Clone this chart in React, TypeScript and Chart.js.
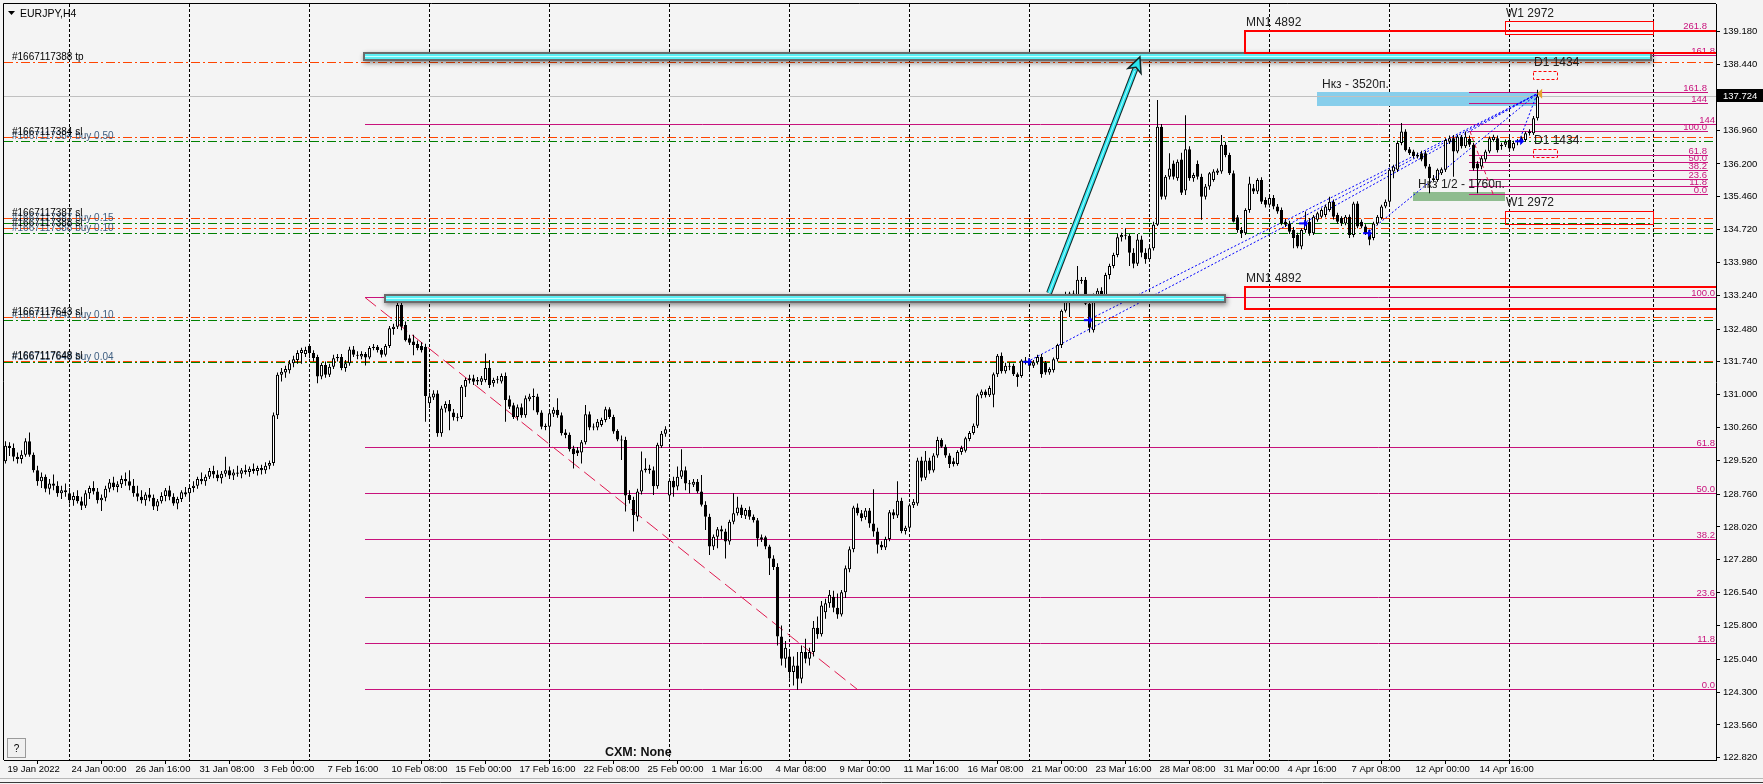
import React, { useEffect, useRef } from "react";
import { Chart, registerables } from "chart.js";

Chart.register(...registerables);

// ---------------- data ----------------
const symbolTitle = "EURJPY,H4";
const footerText = "CXM: None";

const opens = [
  129.50,129.85,129.80,129.60,129.55,129.65,129.95,129.65,129.30,129.05,
  129.15,128.88,129.00,128.95,128.78,128.85,128.78,128.62,128.72,128.60,
  128.50,128.78,128.90,128.82,128.62,128.68,128.88,129.02,128.92,128.98,
  129.10,129.05,128.95,128.78,128.70,128.62,128.75,128.68,128.48,128.60,
  128.72,128.85,128.70,128.55,128.65,128.80,128.78,128.90,128.95,129.10,
  129.05,129.15,129.28,129.20,129.12,129.22,129.30,129.18,129.25,129.22,
  129.30,129.26,129.33,129.28,129.35,129.30,129.40,129.46,130.54,131.45,
  131.50,131.55,131.71,131.78,131.94,131.92,132.10,131.94,131.85,131.41,
  131.67,131.45,131.63,131.82,131.85,131.60,131.71,132.02,131.90,131.86,
  131.92,131.84,132.05,132.08,132.01,131.90,132.10,132.48,132.53,133.02,
  132.57,132.27,132.20,132.14,132.10,132.08,130.81,130.94,131.03,130.13,
  130.69,130.79,130.60,130.50,130.50,131.18,131.33,131.37,131.30,131.29,
  131.33,131.60,131.26,131.34,131.30,131.42,130.90,130.76,130.50,130.72,
  130.54,130.90,130.96,130.96,130.60,130.30,130.28,130.57,130.66,130.54,
  130.15,130.10,129.79,129.75,129.70,129.93,130.56,130.28,130.26,130.32,
  130.43,130.67,130.50,130.18,129.99,129.98,128.74,128.63,128.25,128.82,
  129.30,129.34,129.30,128.94,129.84,130.12,128.73,129.06,128.93,129.15,
  129.30,129.00,128.97,129.04,128.82,128.52,128.25,127.58,127.80,127.97,
  127.92,127.69,128.14,128.33,128.46,128.27,128.40,128.25,128.17,127.79,
  127.79,127.58,127.31,127.12,125.55,125.05,125.10,124.75,124.90,124.60,
  125.20,125.05,125.20,125.75,125.60,126.10,126.30,126.45,126.20,126.05,
  126.55,127.07,127.52,128.46,128.33,128.24,128.39,128.10,127.92,127.62,
  127.56,127.75,128.35,128.28,128.61,127.93,128.00,128.51,128.55,129.52,
  129.13,129.52,129.29,129.63,129.98,129.83,129.63,129.50,129.44,129.71,
  129.74,130.00,130.14,130.30,130.99,131.07,130.99,131.00,131.46,131.88,
  131.53,131.65,131.65,131.46,131.42,131.77,131.73,131.65,131.73,131.85,
  131.72,131.50,131.55,131.80,132.12,132.89,133.12,133.28,133.24,133.59,
  133.59,133.05,132.45,133.24,133.34,133.20,133.70,133.90,134.15,134.55,
  134.60,134.58,134.20,133.95,134.50,134.20,134.05,134.30,134.83,137.04,
  135.46,135.91,136.21,135.88,136.30,135.60,136.53,135.88,136.20,135.91,
  135.46,135.69,135.84,136.00,136.03,136.63,136.40,135.99,135.00,134.71,
  134.64,135.16,135.65,135.58,135.84,135.39,135.28,135.43,135.24,135.16,
  134.90,134.86,134.71,134.60,134.34,134.71,134.90,134.64,134.94,135.01,
  135.05,135.16,135.35,135.05,134.98,134.86,135.01,134.60,135.31,134.90,
  134.79,134.67,134.53,134.86,134.98,135.24,135.35,136.03,136.07,136.67,
  136.93,136.53,136.48,136.40,136.44,136.44,136.14,135.88,135.84,135.99,
  136.07,136.70,136.78,136.48,136.81,136.60,136.77,136.63,136.21,136.14,
  136.30,136.48,136.74,136.78,136.60,136.63,136.74,136.55,136.70,136.70,
  136.74,136.89,136.89,137.23,
];
const highs = [
  129.95,129.93,129.90,129.70,129.75,130.02,130.15,129.70,129.40,129.25,
  129.20,129.10,129.20,129.05,128.95,129.00,128.90,128.80,128.85,128.70,
  128.85,128.95,129.05,128.90,128.75,128.95,129.10,129.15,129.05,129.18,
  129.25,129.30,129.10,128.95,128.85,128.80,128.90,128.75,128.65,128.80,
  128.90,128.95,128.78,128.70,128.85,128.92,128.95,129.05,129.15,129.25,
  129.20,129.35,129.40,129.30,129.28,129.60,129.38,129.32,129.40,129.35,
  129.42,129.38,129.45,129.40,129.42,129.48,129.52,130.60,131.50,131.60,
  131.65,131.78,131.88,132.00,132.06,132.08,132.15,132.00,131.90,131.72,
  131.75,131.70,131.90,131.92,131.92,131.78,132.08,132.10,131.98,131.98,
  131.96,132.10,132.14,132.12,132.05,132.14,132.55,132.60,133.19,133.10,
  132.65,132.35,132.35,132.22,132.18,132.15,131.05,131.10,131.10,130.75,
  130.85,130.88,130.68,130.58,131.22,131.38,131.45,131.45,131.40,131.42,
  131.93,131.78,131.38,131.42,131.48,131.50,130.98,130.82,130.78,130.80,
  130.98,131.02,131.14,131.02,130.65,130.35,130.62,130.72,130.92,130.60,
  130.22,130.15,129.85,129.82,129.98,130.77,130.62,130.35,130.45,130.48,
  130.73,130.72,130.55,130.22,130.08,130.05,128.85,128.70,128.88,129.72,
  129.57,129.42,129.38,129.92,130.18,130.29,129.12,129.15,129.38,129.77,
  129.38,129.08,129.10,129.10,129.19,128.60,128.32,127.85,128.02,128.05,
  127.98,128.18,128.78,128.70,128.52,128.45,128.48,128.30,128.22,127.85,
  127.82,127.62,127.38,127.20,125.80,125.45,125.25,125.10,125.20,125.35,
  125.50,125.30,125.90,126.00,126.35,126.40,126.60,126.58,126.52,126.60,
  127.15,127.58,128.50,128.55,128.40,128.45,128.45,128.87,128.00,127.70,
  127.80,128.40,128.42,129.05,128.68,128.05,128.55,128.65,129.58,129.60,
  129.73,129.58,129.68,130.05,130.02,129.88,129.68,129.58,129.75,129.85,
  130.05,130.18,130.35,131.03,131.12,131.12,131.20,131.50,131.92,131.95,
  131.72,131.72,131.70,131.50,131.80,131.85,131.82,131.78,131.90,131.92,
  131.76,131.62,131.84,132.15,132.92,133.32,133.32,133.35,133.90,133.65,
  133.65,133.12,133.28,133.40,133.42,133.75,133.95,134.20,134.62,134.65,
  134.75,134.62,134.30,134.62,134.58,134.30,134.35,134.90,137.64,137.10,
  135.95,136.44,136.28,136.30,136.45,137.30,136.60,136.00,136.28,135.98,
  135.75,136.02,136.08,136.10,136.85,136.70,136.45,136.05,135.05,134.78,
  135.20,135.91,135.75,135.88,135.90,135.45,135.48,135.50,135.30,135.22,
  134.96,134.92,134.78,134.65,134.75,135.13,134.98,135.05,135.12,135.20,
  135.28,135.46,135.40,135.10,135.02,135.05,135.06,135.35,135.36,134.95,
  134.84,134.72,134.90,135.05,135.28,135.40,136.10,136.18,136.72,137.12,
  136.98,136.58,136.52,136.46,136.50,136.50,136.20,135.95,136.10,136.12,
  136.78,136.84,136.85,136.86,136.85,136.93,136.84,136.68,136.26,136.38,
  136.52,136.82,136.86,136.84,136.68,136.75,136.80,136.72,136.76,136.82,
  136.93,136.98,137.28,137.87,
];
const lows = [
  129.45,129.62,129.50,129.45,129.45,129.60,129.60,129.25,128.95,128.90,
  128.80,128.75,128.85,128.70,128.65,128.70,128.55,128.50,128.55,128.40,
  128.45,128.65,128.75,128.55,128.38,128.60,128.80,128.85,128.80,128.90,
  128.95,128.85,128.70,128.60,128.55,128.50,128.60,128.40,128.38,128.55,
  128.60,128.62,128.50,128.42,128.58,128.70,128.65,128.80,128.88,128.98,
  128.95,129.10,129.12,129.05,129.00,129.15,129.10,129.08,129.15,129.12,
  129.20,129.15,129.22,129.18,129.20,129.22,129.32,129.40,130.45,131.30,
  131.38,131.48,131.62,131.70,131.70,131.85,131.82,131.75,131.26,131.35,
  131.38,131.40,131.58,131.75,131.55,131.52,131.65,131.85,131.80,131.80,
  131.66,131.80,132.00,131.95,131.84,131.86,132.05,132.35,132.48,132.45,
  132.20,132.12,131.89,132.00,131.95,130.39,130.70,130.88,130.05,130.05,
  130.60,130.20,130.42,130.40,130.45,130.95,131.25,131.22,131.22,131.22,
  131.28,131.15,131.18,131.25,131.25,130.39,130.68,130.45,130.42,130.48,
  130.48,130.85,130.65,130.55,130.22,130.20,129.90,130.50,130.48,130.08,
  130.02,129.72,129.34,129.62,129.45,129.88,130.20,130.20,130.20,130.28,
  130.38,130.45,130.12,129.95,129.53,128.37,128.55,127.92,128.15,128.75,
  129.25,129.22,128.74,128.88,129.80,130.05,128.60,128.70,128.85,129.10,
  128.85,128.78,128.92,128.78,128.48,127.95,127.39,127.50,127.54,127.75,
  127.31,127.62,128.08,128.28,128.22,128.20,128.18,128.12,127.58,127.68,
  127.52,126.94,127.05,125.35,124.90,124.85,124.60,124.45,124.35,124.50,
  124.95,124.90,125.10,125.50,125.55,125.95,126.20,126.10,125.95,126.00,
  126.42,127.00,127.45,128.28,128.15,128.18,128.00,127.80,127.42,127.50,
  127.50,127.70,128.20,128.22,127.88,127.85,127.95,128.45,128.50,129.05,
  129.08,129.22,129.25,129.58,129.80,129.58,129.35,129.38,129.40,129.65,
  129.70,129.95,130.10,130.25,130.92,130.94,130.95,130.72,131.40,131.48,
  131.48,131.55,131.42,131.18,131.38,131.68,131.58,131.60,131.68,131.38,
  131.45,131.45,131.50,131.75,132.05,132.85,132.75,133.18,133.20,133.50,
  133.02,132.40,132.40,133.18,133.10,133.15,133.60,133.85,134.10,134.45,
  134.50,133.90,133.85,133.90,134.10,133.95,134.00,134.25,134.80,135.40,
  135.40,135.85,135.85,135.82,135.50,135.50,135.82,135.80,135.85,134.94,
  135.40,135.62,135.80,135.95,135.98,136.35,135.95,134.88,134.65,134.53,
  134.60,135.10,135.52,135.52,135.30,135.22,135.22,135.18,135.08,134.82,
  134.78,134.62,134.30,134.30,134.28,134.65,134.58,134.60,134.90,134.98,
  135.00,135.12,134.95,134.85,134.80,134.82,134.53,134.55,134.75,134.75,
  134.60,134.37,134.48,134.82,134.95,135.20,135.30,135.88,136.02,136.62,
  136.48,136.40,136.33,136.32,136.26,136.10,135.54,135.80,135.80,135.95,
  136.02,136.65,135.91,136.44,136.55,136.56,136.58,136.05,135.54,136.08,
  136.25,136.44,136.70,136.46,136.52,136.58,136.50,136.50,136.62,136.66,
  136.70,136.84,136.85,137.18,
];
const closes = [
  129.85,129.80,129.60,129.55,129.65,129.95,129.65,129.30,129.05,129.15,
  128.88,129.00,128.95,128.78,128.85,128.80,128.62,128.72,128.60,128.50,
  128.78,128.90,128.82,128.62,128.68,128.88,129.02,128.92,128.98,129.10,
  129.05,128.95,128.78,128.70,128.62,128.75,128.68,128.48,128.60,128.72,
  128.85,128.70,128.55,128.65,128.80,128.75,128.90,128.95,129.10,129.05,
  129.15,129.28,129.20,129.12,129.22,129.30,129.18,129.25,129.22,129.30,
  129.26,129.33,129.28,129.35,129.30,129.40,129.46,130.54,131.45,131.52,
  131.58,131.71,131.80,131.94,132.01,132.01,131.94,131.83,131.41,131.67,
  131.45,131.63,131.82,131.85,131.60,131.71,132.02,131.90,131.88,131.92,
  131.84,132.05,132.08,132.01,131.90,132.10,132.50,132.53,133.02,132.53,
  132.23,132.17,132.12,132.05,132.00,130.97,130.96,131.03,130.13,130.69,
  130.79,130.62,130.49,130.48,131.18,131.33,131.37,131.29,131.33,131.37,
  131.60,131.22,131.33,131.35,131.42,130.88,130.73,130.50,130.72,130.54,
  130.92,130.96,130.95,130.60,130.28,130.27,130.58,130.66,130.54,130.13,
  130.09,129.77,129.66,129.68,129.93,130.56,130.26,130.26,130.39,130.43,
  130.67,130.50,130.17,129.99,129.97,128.73,128.63,128.29,128.82,129.30,
  129.34,129.30,128.94,129.87,130.12,130.22,129.06,128.91,129.15,129.30,
  129.00,128.98,129.04,128.82,128.52,128.25,127.58,127.80,127.97,127.92,
  127.69,128.14,128.33,128.46,128.29,128.40,128.25,128.17,127.76,127.74,
  127.58,127.31,127.12,125.55,125.05,125.30,124.75,124.90,124.60,125.20,
  125.05,125.20,125.75,125.60,126.25,126.30,126.49,126.20,126.05,126.55,
  127.09,127.52,128.46,128.33,128.22,128.39,128.10,127.92,127.62,127.56,
  127.75,128.35,128.28,128.61,127.93,128.00,128.51,128.59,129.52,129.13,
  129.52,129.29,129.63,129.98,129.83,129.63,129.44,129.44,129.71,129.80,
  130.02,130.14,130.30,130.99,131.07,130.99,131.15,131.46,131.88,131.53,
  131.65,131.63,131.46,131.40,131.77,131.73,131.65,131.73,131.85,131.46,
  131.50,131.58,131.80,132.12,132.89,133.12,133.28,133.24,133.59,133.56,
  133.05,132.51,133.24,133.34,133.20,133.70,133.90,134.15,134.55,134.60,
  134.58,134.20,133.95,134.50,134.20,134.05,134.30,134.83,137.04,135.46,
  135.91,136.10,135.91,136.25,135.55,136.53,135.88,135.95,135.91,135.46,
  135.69,135.99,136.03,136.05,136.63,136.40,135.99,134.90,134.71,134.64,
  135.16,135.76,135.58,135.84,135.35,135.28,135.43,135.24,135.13,134.86,
  134.83,134.67,134.53,134.34,134.71,134.90,134.64,135.01,135.09,135.16,
  135.24,135.35,135.01,134.90,134.86,135.01,134.60,135.31,134.79,134.79,
  134.64,134.49,134.86,135.01,135.24,135.35,136.07,136.14,136.67,136.93,
  136.51,136.44,136.38,136.37,136.30,136.14,135.88,135.84,136.07,136.08,
  136.74,136.78,136.48,136.81,136.60,136.81,136.63,136.10,136.10,136.33,
  136.48,136.78,136.81,136.51,136.63,136.70,136.55,136.67,136.72,136.78,
  136.89,136.93,137.23,137.72,
];

const dateLabels = [
  "19 Jan 2022", "24 Jan 00:00", "26 Jan 16:00", "31 Jan 08:00", "3 Feb 00:00", "7 Feb 16:00",
  "10 Feb 08:00", "15 Feb 00:00", "17 Feb 16:00", "22 Feb 08:00", "25 Feb 00:00", "1 Mar 16:00",
  "4 Mar 08:00", "9 Mar 00:00", "11 Mar 16:00", "16 Mar 08:00", "21 Mar 00:00", "23 Mar 16:00",
  "28 Mar 08:00", "31 Mar 00:00", "4 Apr 16:00", "7 Apr 08:00", "12 Apr 00:00", "14 Apr 16:00",
];
const dateLabelBars = [0, 16, 32, 48, 64, 80, 96, 112, 128, 144, 160, 176, 192, 208, 224, 240, 256, 272, 288, 304, 320, 336, 352, 368];
const weekGridBars = [16, 46, 76, 106, 136, 166, 196, 226, 256, 286, 316, 346, 376, 412];
const priceTicks = [139.18, 138.44, 136.96, 136.2, 135.46, 134.72, 133.98, 133.24, 132.48, 131.74, 131.0, 130.26, 129.52, 128.76, 128.02, 127.28, 126.54, 125.8, 125.04, 124.3, 123.56, 122.82];
const currentPrice = 137.724;

const xMin = -0.375;
const xMax = 427.625;
const yMin = 122.769;
const yMax = 139.804;

// trade level lines
const orderPrices = [138.49, 136.80, 136.71, 134.97, 134.86, 134.75, 134.64, 132.74, 132.68, 131.752, 131.728];
const orderIsBuy = [false, false, true, false, true, false, true, false, true, false, true];
const orderTexts = [
  "#1667117388 tp", "#1667117384 sl", "#1667117384 buy 0.50", "#1667117387 sl", "#1667117387 buy 0.15",
  "#1667117388 sl", "#1667117388 buy 0.10", "#1667117643 sl", "#1667117642 buy 0.10", "#1667117648 sl", "#1667117648 buy 0.04",
];

// main fibonacci
const fibMainLabels = ["0.0", "11.8", "23.6", "38.2", "50.0", "61.8", "100.0", "144", "161.8"];
const fibMainPrices = [124.35, 125.39, 126.44, 127.73, 128.77, 129.81, 133.19, 137.08, 138.65];
const fibMainStartBar = 89.9;
const fibMainTrendBars = [89.9, 213.1];
const fibMainTrendPrices = [133.19, 124.35];

// small fibonacci
const fibSmallLabels = ["0.0", "11.8", "23.6", "38.2", "50.0", "61.8", "100.0", "144", "161.8", "261.8"];
const fibSmallPrices = [135.52, 135.69, 135.86, 136.06, 136.23, 136.40, 136.94, 137.57, 137.81, 139.20];
const fibSmallBars = [365.9, 425.6];
const fibSmallTrendBars = [366.1, 371.9];
const fibSmallTrendPrices = [136.94, 135.52];

// red boxes
const boxLabels = ["MN1 4892", "MN1 4892", "W1 2972", "W1 2972", "D1 1434", "D1 1434"];
const boxLeftBars = [309.9, 309.9, 374.9, 374.9, 381.9, 381.9];
const boxRightBars = [440, 440, 411.9, 411.9, 387.9, 387.9];
const boxTopPrices = [139.20, 133.42, 139.41, 135.14, 138.29, 136.54];
const boxBottomPrices = [138.71, 132.93, 139.12, 134.85, 138.12, 136.36];
const boxLabelPrices = [139.30, 133.54, 139.52, 135.25, 138.41, 136.65];
const boxLineWidths = [2, 2, 1, 1, 1, 1];
const boxDashed = [false, false, false, false, true, true];

// zones
const zoneLabels = ["Нкз - 3520п.", "Нкз 1/2 - 1760п."];
const zoneLeftBars = [327.9, 351.9];
const zoneRightBars = [382.9, 374.9];
const zoneTopPrices = [137.83, 135.56];
const zoneBottomPrices = [137.51, 135.37];
const zoneColors = ["#87CEEB", "#8FBC8F"];
const zoneLabelBars = [329.1, 353.1];
const zoneLabelPrices = [137.91, 135.66];

// cyan levels + arrow
const cyanStartBars = [89.4, 94.6];
const cyanEndBars = [411.6, 305.1];
const cyanPrices = [138.63, 133.19];
const arrowBars = [260.9, 283.6];
const arrowPrices = [133.29, 138.61];

// trades
const entryBars = [255.4, 270.6, 324.4, 340.4, 378.4];
const entryPrices = [131.74, 132.68, 134.86, 134.64, 136.71];
const exitBar = 382.9;
const exitPrice = 137.78;

// ---------------- drawing ----------------
const FONT = '"Liberation Sans", Arial, sans-serif';
const BG = "#F4F4F4";
const FIB = "#C8127C";

const crisp = (v: number) => Math.round(v - 0.5) + 0.5;

function seg(ctx: CanvasRenderingContext2D, x1: number, y1: number, x2: number, y2: number) {
  ctx.beginPath();
  ctx.moveTo(x1, y1);
  ctx.lineTo(x2, y2);
  ctx.stroke();
}

const overlayPlugin = {
  id: "mt4Overlay",
  beforeDraw(chart: any) {
    const { ctx, width, height } = chart;
    ctx.save();
    ctx.fillStyle = BG;
    ctx.fillRect(0, 0, width, height);
    ctx.restore();
  },
  beforeDatasetsDraw(chart: any) {
    const { ctx, chartArea: a } = chart;
    const X = (b: number) => chart.scales.x.getPixelForValue(b);
    const Y = (p: number) => chart.scales.y.getPixelForValue(p);
    ctx.save();
    ctx.beginPath();
    ctx.rect(a.left, a.top, a.right - a.left, a.bottom - a.top);
    ctx.clip();
    ctx.lineWidth = 1;

    // week separators
    ctx.strokeStyle = "#000000";
    ctx.setLineDash([3, 2]);
    weekGridBars.forEach((b) => {
      const x = crisp(X(b));
      seg(ctx, x, a.top, x, a.bottom);
    });
    ctx.setLineDash([]);

    // zones
    zoneLabels.forEach((_, k) => {
      const x1 = Math.round(X(zoneLeftBars[k]));
      const x2 = Math.round(X(zoneRightBars[k]));
      const y1 = Math.round(Y(zoneTopPrices[k]));
      const y2 = Math.round(Y(zoneBottomPrices[k]));
      ctx.fillStyle = zoneColors[k];
      ctx.fillRect(x1, y1, x2 - x1, y2 - y1);
    });

    // current price line
    ctx.strokeStyle = "#C0C0C0";
    const cy = crisp(Y(currentPrice));
    seg(ctx, a.left, cy, a.right, cy);

    // order lines: buy (green) first, then sl/tp (orange) on top
    ctx.setLineDash([9, 3, 2, 3]);
    [true, false].forEach((pass) => {
      orderPrices.forEach((p, k) => {
        if (orderIsBuy[k] !== pass) return;
        ctx.strokeStyle = pass ? "#008000" : "#FF4500";
        const y = crisp(Y(p));
        seg(ctx, a.left, y, a.right, y);
      });
    });
    ctx.setLineDash([]);

    // fib levels
    ctx.strokeStyle = FIB;
    const fx = Math.round(X(fibMainStartBar));
    fibMainPrices.forEach((p) => {
      const y = crisp(Y(p));
      seg(ctx, fx, y, a.right, y);
    });
    const sx1 = Math.round(X(fibSmallBars[0]));
    const sx2 = Math.round(X(fibSmallBars[1]));
    fibSmallPrices.forEach((p) => {
      const y = crisp(Y(p));
      seg(ctx, sx1, y, sx2, y);
    });

    // fib trend lines
    ctx.strokeStyle = "#E0184E";
    ctx.setLineDash([14, 6]);
    seg(ctx, X(fibMainTrendBars[0]), Y(fibMainTrendPrices[0]), X(fibMainTrendBars[1]), Y(fibMainTrendPrices[1]));
    ctx.setLineDash([4, 3]);
    seg(ctx, X(fibSmallTrendBars[0]), Y(fibSmallTrendPrices[0]), X(fibSmallTrendBars[1]), Y(fibSmallTrendPrices[1]));

    // trade dotted lines
    ctx.strokeStyle = "#0000FF";
    ctx.setLineDash([2, 2]);
    entryBars.forEach((b, k) => {
      seg(ctx, X(b), Y(entryPrices[k]), X(exitBar), Y(exitPrice));
    });
    ctx.setLineDash([]);

    // labels
    ctx.font = `9.5px ${FONT}`;
    ctx.textBaseline = "alphabetic";
    ctx.textAlign = "right";
    ctx.fillStyle = FIB;
    fibMainLabels.forEach((t, k) => ctx.fillText(t, a.right - 1, crisp(Y(fibMainPrices[k])) - 1.5));
    fibSmallLabels.forEach((t, k) => ctx.fillText(t, sx2 - 1, crisp(Y(fibSmallPrices[k])) - 1.5));
    ctx.textAlign = "left";
    ctx.font = `10px ${FONT}`;
    [true, false].forEach((pass) => {
      orderTexts.forEach((t, k) => {
        if (orderIsBuy[k] !== pass) return;
        ctx.fillStyle = pass ? "#3E5E80" : "#000000";
        ctx.fillText(t, a.left + 8, crisp(Y(orderPrices[k])) - 2.5);
      });
    });
    ctx.restore();
  },
  afterDatasetsDraw(chart: any) {
    const { ctx, chartArea: a } = chart;
    const X = (b: number) => chart.scales.x.getPixelForValue(b);
    const Y = (p: number) => chart.scales.y.getPixelForValue(p);
    ctx.save();
    ctx.beginPath();
    ctx.rect(a.left, a.top, a.right - a.left, a.bottom - a.top);
    ctx.clip();

    // cyan level bars
    cyanPrices.forEach((p, k) => {
      const x1 = Math.round(X(cyanStartBars[k]));
      const x2 = Math.round(X(cyanEndBars[k]));
      const yc = Math.round(Y(p));
      ctx.save();
      ctx.shadowColor = "rgba(0,0,0,0.45)";
      ctx.shadowBlur = 5;
      ctx.shadowOffsetY = 2;
      ctx.shadowOffsetX = 1;
      ctx.fillStyle = "#6B6B6B";
      ctx.fillRect(x1, yc - 4, x2 - x1, 9);
      ctx.restore();
      ctx.fillStyle = "#5CEFF5";
      ctx.fillRect(x1 + 2, yc - 2, x2 - x1 - 4, 5);
      ctx.fillStyle = "#C8FFFF";
      ctx.fillRect(x1 + 2, yc, x2 - x1 - 4, 1);
    });

    // cyan arrow
    {
      const ax1 = X(arrowBars[0]), ay1 = Y(arrowPrices[0]);
      const ax2 = X(arrowBars[1]), ay2 = Y(arrowPrices[1]);
      const dx = ax2 - ax1, dy = ay2 - ay1;
      const len = Math.hypot(dx, dy);
      const ux = dx / len, uy = dy / len;
      const nx = -uy, ny = ux;
      const hl = 15, hw = 7;
      const bx = ax2 - ux * hl, by = ay2 - uy * hl;
      ctx.lineCap = "butt";
      ctx.strokeStyle = "#102828";
      ctx.lineWidth = 6;
      seg(ctx, ax1, ay1, bx + ux * 2, by + uy * 2);
      ctx.strokeStyle = "#2BE4EE";
      ctx.lineWidth = 4;
      seg(ctx, ax1, ay1, bx + ux * 2, by + uy * 2);
      ctx.strokeStyle = "#A8FCFF";
      ctx.lineWidth = 1;
      seg(ctx, ax1, ay1, bx, by);
      ctx.beginPath();
      ctx.moveTo(ax2, ay2);
      ctx.lineTo(bx + nx * hw, by + ny * hw);
      ctx.lineTo(bx + ux * 4, by + uy * 4);
      ctx.lineTo(bx - nx * hw, by - ny * hw);
      ctx.closePath();
      ctx.fillStyle = "#2BE4EE";
      ctx.fill();
      ctx.strokeStyle = "#102828";
      ctx.lineWidth = 1.5;
      ctx.stroke();
    }

    // red boxes
    boxLabels.forEach((_, k) => {
      const w = boxLineWidths[k];
      const off = w % 2 === 1 ? 0.5 : 0;
      const x1 = Math.round(X(boxLeftBars[k])) + off;
      const x2 = Math.round(X(boxRightBars[k])) + off;
      const y1 = Math.round(Y(boxTopPrices[k])) + off;
      const y2 = Math.round(Y(boxBottomPrices[k])) + off;
      ctx.strokeStyle = "#FF0000";
      ctx.lineWidth = w;
      ctx.setLineDash(boxDashed[k] ? [3, 2] : []);
      ctx.strokeRect(x1, y1, x2 - x1, y2 - y1);
    });
    ctx.setLineDash([]);

    // trade markers
    entryBars.forEach((b, k) => {
      const x = X(b), y = Y(entryPrices[k]);
      ctx.fillStyle = "#0000FF";
      ctx.fillRect(x - 4, y - 1, 5, 2);
      ctx.beginPath();
      ctx.moveTo(x + 1, y - 4);
      ctx.lineTo(x + 5, y);
      ctx.lineTo(x + 1, y + 4);
      ctx.closePath();
      ctx.fill();
    });
    {
      const x = X(exitBar), y = Y(exitPrice);
      ctx.fillStyle = "#E6A12E";
      ctx.beginPath();
      ctx.moveTo(x, y);
      ctx.lineTo(x + 5, y - 5);
      ctx.lineTo(x + 5, y + 5);
      ctx.closePath();
      ctx.fill();
    }

    // box + zone labels
    ctx.font = `12px ${FONT}`;
    ctx.textAlign = "left";
    ctx.textBaseline = "alphabetic";
    ctx.fillStyle = "#202020";
    boxLabels.forEach((t, k) => {
      ctx.fillText(t, Math.round(X(boxLeftBars[k])) + 1, Math.round(Y(boxLabelPrices[k])));
    });
    zoneLabels.forEach((t, k) => {
      ctx.fillText(t, Math.round(X(zoneLabelBars[k])), Math.round(Y(zoneLabelPrices[k])));
    });
    ctx.restore();
  },
  afterDraw(chart: any) {
    const { ctx, chartArea: a, width } = chart;
    const Y = (p: number) => chart.scales.y.getPixelForValue(p);
    ctx.save();
    ctx.lineWidth = 1;
    ctx.setLineDash([]);
    // frame
    ctx.strokeStyle = "#000000";
    ctx.beginPath();
    ctx.moveTo(a.left - 0.5, a.bottom);
    ctx.lineTo(a.left - 0.5, a.top - 0.5);
    ctx.lineTo(a.right, a.top - 0.5);
    ctx.stroke();
    // window bottom
    ctx.strokeStyle = "#B8B8B8";
    seg(ctx, 0, 778.5, width, 778.5);
    ctx.strokeStyle = "#3A3A3A";
    seg(ctx, 0, 782.5, width, 782.5);

    // current price box
    const py = Math.round(Y(currentPrice));
    ctx.fillStyle = "#000000";
    ctx.fillRect(a.right + 1, py - 7, width - a.right - 1, 13);
    ctx.fillStyle = "#FFFFFF";
    ctx.font = `9.5px ${FONT}`;
    ctx.textAlign = "left";
    ctx.textBaseline = "middle";
    ctx.fillText(currentPrice.toFixed(3), a.right + 7, py);

    // title
    ctx.fillStyle = "#000000";
    ctx.beginPath();
    ctx.moveTo(a.left + 4, a.top + 7);
    ctx.lineTo(a.left + 11, a.top + 7);
    ctx.lineTo(a.left + 7.5, a.top + 11);
    ctx.closePath();
    ctx.fill();
    ctx.font = `10.5px ${FONT}`;
    ctx.textBaseline = "alphabetic";
    ctx.fillText(symbolTitle, a.left + 16, a.top + 12.5);

    // footer text
    ctx.font = `bold 12.5px ${FONT}`;
    ctx.fillStyle = "#111111";
    ctx.fillText(footerText, 605, a.bottom - 4);

    // help button
    ctx.fillStyle = "#F0F0F0";
    ctx.fillRect(7.5, 738.5, 18, 19);
    ctx.strokeStyle = "#9A9A9A";
    ctx.strokeRect(7.5, 738.5, 18, 19);
    ctx.fillStyle = "#000000";
    ctx.font = `10px ${FONT}`;
    ctx.textAlign = "center";
    ctx.fillText("?", 16.5, 752);
    ctx.restore();
  },
};

export default function App() {
  const ref = useRef<HTMLCanvasElement | null>(null);

  useEffect(() => {
    document.body.style.margin = "0";
    document.body.style.background = BG;
    const canvas = ref.current;
    if (!canvas) return;

    const bodies = opens.map((o, i) => ({ x: i, y: [o, closes[i]] }));
    const wicks = lows.map((l, i) => ({ x: i, y: [l, highs[i]] }));
    const bodyColors = opens.map((o, i) => (closes[i] >= o ? "#FFFFFF" : "#000000"));
    const tickFont = { family: FONT, size: 9.5 };

    const chart = new Chart(canvas, {
      type: "bar",
      data: {
        datasets: [
          {
            label: "body",
            data: bodies as any,
            backgroundColor: bodyColors,
            borderColor: "#000000",
            borderWidth: 1,
            borderSkipped: false,
            barThickness: 3,
            minBarLength: 1,
            inflateAmount: 0,
            stack: "candles",
            order: 0,
          } as any,
          {
            label: "wick",
            data: wicks as any,
            backgroundColor: "#000000",
            borderWidth: 0,
            barThickness: 1,
            inflateAmount: 0,
            stack: "candles",
            order: 1,
          } as any,
        ],
      },
      options: {
        responsive: false,
        animation: false,
        devicePixelRatio: 1,
        layout: { padding: { left: 4, top: 4, right: 0, bottom: 0 } },
        plugins: { legend: { display: false }, tooltip: { enabled: false } },
        scales: {
          x: {
            type: "linear",
            min: xMin,
            max: xMax,
            offset: false,
            stacked: true,
            grid: { drawOnChartArea: false, drawTicks: true, tickLength: 4, color: "#000000" },
            border: { color: "#000000" },
            ticks: {
              autoSkip: false,
              maxRotation: 0,
              minRotation: 0,
              align: "start",
              labelOffset: 2,
              padding: 0,
              color: "#000000",
              font: tickFont,
              callback: (_v: any, i: number) => dateLabels[i] ?? "",
            },
            afterBuildTicks: (s: any) => {
              s.ticks = dateLabelBars.map((v) => ({ value: v }));
            },
            afterFit: (s: any) => {
              s.height = 24;
              s.paddingLeft = 0;
              s.paddingRight = 0;
              s.paddingTop = 0;
              s.paddingBottom = 0;
            },
          } as any,
          y: {
            type: "linear",
            position: "right",
            min: yMin,
            max: yMax,
            stacked: false,
            grid: { drawOnChartArea: false, drawTicks: true, tickLength: 4, color: "#000000" },
            border: { color: "#000000" },
            ticks: {
              padding: 3,
              color: "#000000",
              font: tickFont,
              callback: (v: any) => Number(v).toFixed(3),
            },
            afterBuildTicks: (s: any) => {
              s.ticks = priceTicks.map((v) => ({ value: v }));
            },
            afterFit: (s: any) => {
              s.width = 47;
              s.paddingLeft = 0;
              s.paddingRight = 0;
              s.paddingTop = 0;
              s.paddingBottom = 0;
            },
          } as any,
        },
      },
      plugins: [overlayPlugin as any],
    });

    return () => chart.destroy();
  }, []);

  return (
    <div style={{ width: 1763, height: 784 }}>
      <canvas ref={ref} width={1763} height={784} style={{ display: "block" }} />
    </div>
  );
}
